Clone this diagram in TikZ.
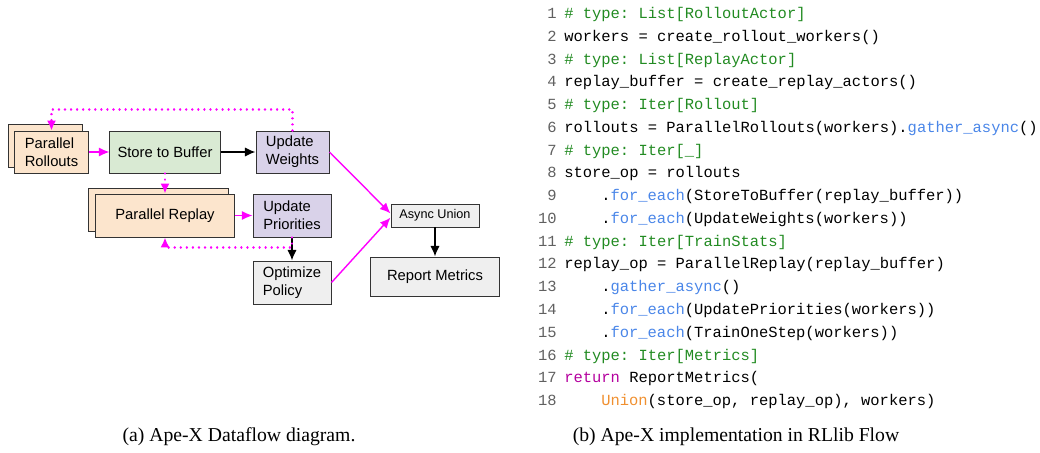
\documentclass[tikz,border=0pt]{standalone}
\usepackage{fontspec}
\setmainfont{Liberation Serif}
\setsansfont{Liberation Sans}
\setmonofont{Liberation Mono}
\usepackage{xcolor}
\usetikzlibrary{arrows.meta,calc,positioning}

\definecolor{peach}{HTML}{FCE5CD}
\definecolor{mint}{HTML}{D9EAD3}
\definecolor{lilac}{HTML}{D9D2E9}
\definecolor{pale}{HTML}{EFEFEF}
\definecolor{edge}{HTML}{333333}
\definecolor{flow}{HTML}{FF00FF}
\definecolor{cmt}{HTML}{228B22}
\definecolor{meth}{HTML}{4A86E8}
\definecolor{kw}{HTML}{B4009E}
\definecolor{orng}{HTML}{F09030}
\definecolor{lnum}{HTML}{606060}

\tikzset{
	box/.style={draw=edge, line width=0.7pt, inner sep=0pt, align=left,
		font=\sffamily\fontsize{10.5}{12.8}\selectfont},
	push/.style={draw=flow, line width=1pt, -{Latex[length=7.5pt,width=6.5pt]}},
	pull/.style={draw=black, line width=0.9pt, -{Latex[length=7.5pt,width=6.5pt]}},
	dots/.style={draw=flow, line width=1.8pt, line cap=round, dash pattern=on 0.01pt off 4.3pt,
		-{Latex[length=7pt,width=6.5pt,sep=0pt,line cap=butt]}},
	code/.style={anchor=west, inner sep=0pt, text height=8pt, text depth=0pt,
		font=\ttfamily\fontsize{11}{13}\selectfont},
	num/.style={anchor=east, inner sep=0pt, text height=8pt, text depth=0pt, text=lnum,
		font=\ttfamily\fontsize{11}{13}\selectfont}
}

\begin{document}
\begin{tikzpicture}[x=0.025cm, y=-0.025cm]
		\useasboundingbox (0,0) rectangle (1040,453);
		% left: dataflow
		\node[box, fill=peach, minimum width=1.825cm, minimum height=1.075cm] (rollB) at (45.5,145.5) {};
		\node[box, fill=peach, minimum width=1.825cm, minimum height=1.05cm] (roll) at (51.5,152) {Parallel\\Rollouts};
		\node[box, fill=mint, minimum width=2.75cm, minimum height=1.05cm] (store) at (165,152) {Store to Buffer};
		\node[box, fill=lilac, minimum width=1.825cm, minimum height=1.05cm] (weights) at (292.5,152) {Update\\Weights};
		\node[box, fill=peach, minimum width=3.475cm, minimum height=1.075cm] (replayB) at (158.5,209.5) {};
		\node[box, fill=peach, minimum width=3.45cm, minimum height=1.075cm] (replay) at (165,215.5) {Parallel Replay};
		\node[box, fill=lilac, minimum width=1.95cm, minimum height=1.075cm] (prio) at (292,215.5) {Update\\Priorities};
		\node[box, fill=pale, minimum width=1.95cm, minimum height=1.075cm] (optim) at (292,282.5) {Optimize\\Policy};
		\node[box, fill=pale, minimum width=2.2cm, minimum height=0.575cm,
			font=\sffamily\fontsize{9}{11}\selectfont] (union) at (435,215.5) {Async Union};
		\node[box, fill=pale, minimum width=3.2cm, minimum height=0.975cm] (report) at (435,276.5) {Report Metrics};

		\draw[push] (roll) -- (store);
		\draw[pull] (store) -- (weights);
		\draw[push] (replay) -- (prio);
		\draw[push] (weights.east) -- ([yshift=1.5pt]union.west);
		\draw[push] (optim.east) -- ([yshift=-1.5pt]union.west);
		\draw[pull] (union) -- (report);
		\draw[pull] (prio) -- (optim);
		\draw[dots] (store.south) -- (replay.north);
		\draw[dots] (weights.north) -- ++(0,-21) -| (roll.north);
		\draw[dots] (prio.south) -- ++(0,10) -| (replay.south);

		% right: code listing
		\foreach \k in {1,...,18}
			\node[num] (n\k) at (557,{13+(\k-1)*22.76}) {\k};
		\node[code, text=cmt] (l1) at (564,13) {\# type: List[RolloutActor]};
		\node[code] (l2) at (564,35.76) {workers = create\_rollout\_workers()};
		\node[code, text=cmt] (l3) at (564,58.52) {\# type: List[ReplayActor]};
		\node[code] (l4) at (564,81.28) {replay\_buffer = create\_replay\_actors()};
		\node[code, text=cmt] (l5) at (564,104.04) {\# type: Iter[Rollout]};
		\node[code] (l6) at (564,126.8) {rollouts = ParallelRollouts(workers).\textcolor{meth}{gather\_async}()};
		\node[code, text=cmt] (l7) at (564,149.56) {\# type: Iter[\_]};
		\node[code] (l8) at (564,172.32) {store\_op = rollouts};
		\node[code] (l9) at (601,195.08) {.\textcolor{meth}{for\_each}(StoreToBuffer(replay\_buffer))};
		\node[code] (l10) at (601,217.84) {.\textcolor{meth}{for\_each}(UpdateWeights(workers))};
		\node[code, text=cmt] (l11) at (564,240.6) {\# type: Iter[TrainStats]};
		\node[code] (l12) at (564,263.36) {replay\_op = ParallelReplay(replay\_buffer)};
		\node[code] (l13) at (601,286.12) {.\textcolor{meth}{gather\_async}()};
		\node[code] (l14) at (601,308.88) {.\textcolor{meth}{for\_each}(UpdatePriorities(workers))};
		\node[code] (l15) at (601,331.64) {.\textcolor{meth}{for\_each}(TrainOneStep(workers))};
		\node[code, text=cmt] (l16) at (564,354.4) {\# type: Iter[Metrics]};
		\node[code] (l17) at (564,377.16) {\textcolor{kw}{return} ReportMetrics(};
		\node[code] (l18) at (601,399.92) {\textcolor{orng}{Union}(store\_op, replay\_op), workers)};

		% captions
		\node[font=\rmfamily\fontsize{14}{16}\selectfont] (capA) at (239,437) {(a) Ape-X Dataflow diagram.};
		\node[font=\rmfamily\fontsize{14}{16}\selectfont] (capB) at (736,437) {(b) Ape-X implementation in RLlib Flow};
	\end{tikzpicture}
\end{document}
